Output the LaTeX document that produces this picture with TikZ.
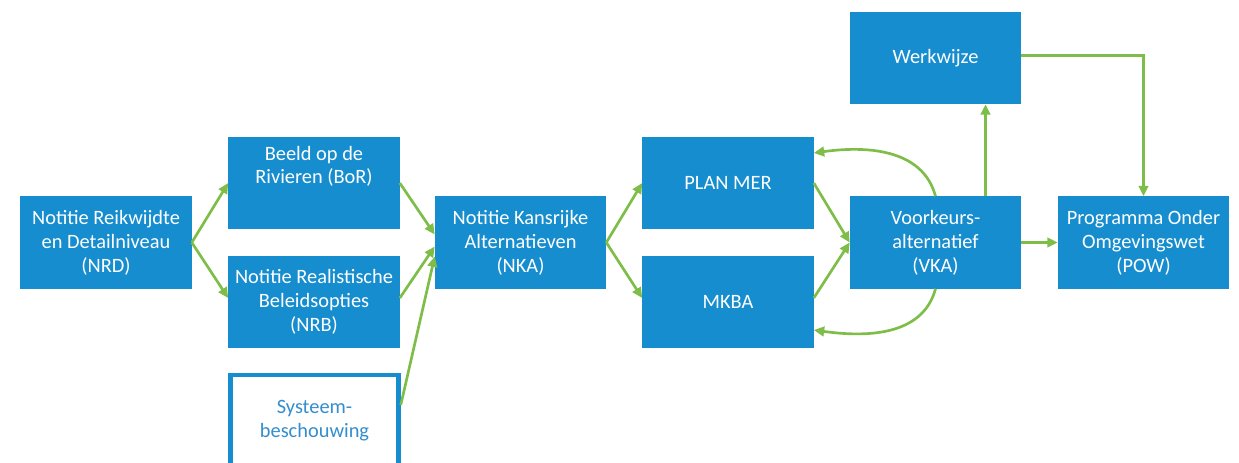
\documentclass[tikz,border=0pt]{standalone}
\usepackage{fontspec}
\setmainfont{Carlito}
\usetikzlibrary{arrows.meta}
\definecolor{boxblue}{RGB}{22,141,206}
\definecolor{txtblue}{RGB}{52,142,206}
\definecolor{arrgreen}{RGB}{126,190,72}
\begin{document}
\begin{tikzpicture}[x=0.025cm,y=-0.025cm]
\tikzstyle{every node}+=[inner sep=0pt]
\tikzstyle{blok}=[fill=boxblue,text=white,minimum width=4.275cm,minimum height=2.3cm,align=center,font=\fontsize{14.5}{17}\selectfont]
\tikzstyle{leeg}=[blok,fill=white,draw=boxblue,line width=3.2pt,text=txtblue,minimum width=4.2cm,minimum height=2.3cm]
\tikzstyle{pijl}=[draw=arrgreen,line width=1.9pt,-{Triangle[length=0.26cm,width=0.24cm]}]
\useasboundingbox (0,0) rectangle (1239,462);
\node [blok] (NRD) at (106,242.5) {Notitie Reikwijdte\\en Detailniveau\\(NRD)};
\node [blok] (BoR) at (314,183) {Beeld op de\\Rivieren (BoR)\\[0.6em]};
\node [blok] (NRB) at (314,302) {Notitie Realistische\\Beleidsopties\\(NRB)};
\node [leeg] (Sys) at (314.5,421) {Systeem-\\beschouwing};
\node [blok] (NKA) at (520.5,242.5) {Notitie Kansrijke\\Alternatieven\\(NKA)};
\node [blok] (PLAN) at (728,183) {PLAN MER};
\node [blok] (MKBA) at (728,302) {MKBA};
\node [blok] (VKA) at (935.5,242.5) {Voorkeurs-\\alternatief\\(VKA)};
\node [blok] (Werk) at (935.5,58) {Werkwijze};
\node [blok] (POW) at (1143.5,242.5) {Programma Onder\\Omgevingswet\\(POW)};
\draw [pijl] (NRD.east) -- (BoR.west);
\draw [pijl] (NRD.east) -- ([yshift=0.1cm]NRB.west);
\draw [pijl] (BoR.east) -- ([yshift=0.2cm]NKA.west);
\draw [pijl] ([yshift=0.1cm]NRB.east) -- ([yshift=-0.1cm]NKA.west);
\draw [pijl] ([yshift=0.4cm]Sys.east) -- ([yshift=-0.35cm]NKA.west);
\draw [pijl] (NKA.east) -- (PLAN.west);
\draw [pijl] (NKA.east) -- ([yshift=0.1cm]MKBA.west);
\draw [pijl] (PLAN.east) -- (VKA.west);
\draw [pijl] ([yshift=0.1cm]MKBA.east) -- (VKA.west);
\draw [pijl] (VKA.north) to [out=105,in=8] ([yshift=0.75cm]PLAN.east);
\draw [pijl] (VKA.south) to [out=-105,in=-8] ([yshift=-0.7cm]MKBA.east);
\draw [pijl] ([xshift=1.25cm]VKA.north) -- ([xshift=1.25cm]Werk.south);
\draw [pijl] (VKA.east) -- (POW.west);
\draw [pijl] ([yshift=0.07cm]Werk.east) -| (POW.north);
\end{tikzpicture}
\end{document}
